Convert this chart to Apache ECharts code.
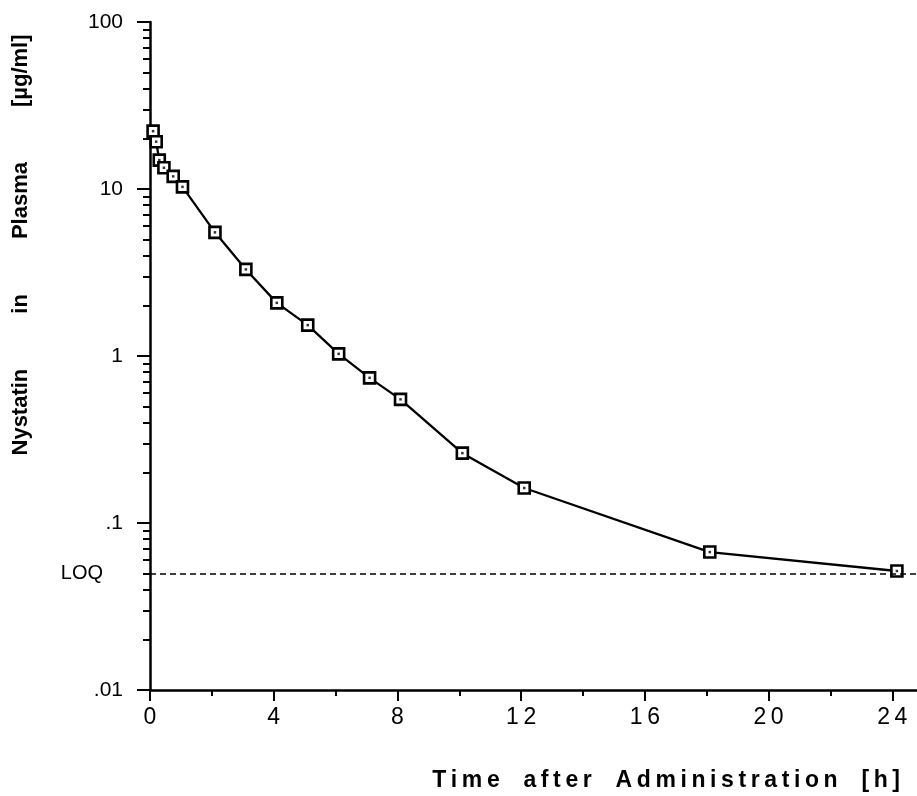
<!DOCTYPE html>
<html>
<head>
<meta charset="utf-8">
<title>Nystatin in Plasma</title>
<script src="https://cdn.jsdelivr.net/npm/echarts@6/dist/echarts.min.js"></script>
<style>
  html, body { margin: 0; padding: 0; background: #fff; }
  #plasmaChart { width: 917px; height: 796px; }
</style>
</head>
<body>
<div id="plasmaChart"></div>
<script>
// sampling times [h] and measured concentrations [µg/ml]
var hours = [0.1, 0.2, 0.3, 0.45, 0.75, 1.05, 2.1, 3.1, 4.1, 5.1, 6.1, 7.1, 8.1, 10.1, 12.1, 18.1, 24.15];
var conc = [22.2, 19.2, 14.9, 13.4, 11.9, 10.3, 5.5, 3.3, 2.08, 1.53, 1.03, 0.74, 0.55, 0.262, 0.162, 0.067, 0.0516];

// limit of quantification
var loq = 0.052;

// axis ticks
var xTicks = [0, 4, 8, 12, 16, 20, 24];
var xMinorTicks = [2, 6, 10, 14, 18, 22];
var yTicks = [0.01, 0.1, 1, 10, 100];
var yTickLabels = ['.01', '.1', '1', '10', '100'];
var yMinorSteps = [2, 3, 4, 5, 6, 7, 8, 9];

var yMinorTicks = [];
for (var d = 0; d < yTicks.length - 1; d++) {
    for (var k = 0; k < yMinorSteps.length; k++) {
        yMinorTicks.push(+(yTicks[d] * yMinorSteps[k]).toPrecision(3));
    }
}

var points = hours.map(function (h, i) { return [h, conc[i]]; });

var FONT = "'Liberation Sans', Arial, Helvetica, sans-serif";

function spaced(word) {
    return word.split('').join('\u2009');
}

var xTitle = ['Time', 'after', 'Administration', '[h]'].map(spaced).join('\u2009   ');
var yTitle = 'Nystatin         in         Plasma         [µg/ml]';

var plasmaChart = {
    animation: false,
    backgroundColor: '#fff',
    grid: {
        left: 150,
        top: 22,
        right: 0,
        bottom: 106
    },
    xAxis: [
        {
            type: 'value',
            min: 0,
            max: 24.8,
            axisLine: { onZero: false, lineStyle: { color: '#000', width: 2.5 } },
            axisTick: { customValues: xTicks, length: 11, lineStyle: { color: '#000', width: 2 } },
            axisLabel: {
                customValues: xTicks,
                margin: 16,
                color: '#000',
                fontFamily: FONT,
                fontSize: 23,
                formatter: function (v) { return String(v).split('').join('\u2009'); }
            },
            splitLine: { show: false }
        },
        {
            type: 'value',
            min: 0,
            max: 24.8,
            position: 'bottom',
            axisLine: { show: false },
            axisTick: { customValues: xMinorTicks, length: 6, lineStyle: { color: '#000', width: 2 } },
            axisLabel: { show: false },
            splitLine: { show: false }
        }
    ],
    yAxis: [
        {
            type: 'log',
            logBase: 10,
            min: 0.01,
            max: 100,
            axisLine: { lineStyle: { color: '#000', width: 2.5 } },
            axisTick: { customValues: yTicks, length: 13, lineStyle: { color: '#000', width: 2 } },
            axisLabel: {
                customValues: yTicks,
                margin: 27,
                color: '#000',
                fontFamily: FONT,
                fontSize: 21,
                formatter: function (v) {
                    var i = yTicks.indexOf(v);
                    return i >= 0 ? yTickLabels[i] : '';
                }
            },
            splitLine: { show: false }
        },
        {
            type: 'log',
            logBase: 10,
            min: 0.01,
            max: 100,
            position: 'left',
            axisLine: { show: false },
            axisTick: { customValues: yMinorTicks, length: 7, lineStyle: { color: '#000', width: 2 } },
            axisLabel: { show: false },
            splitLine: { show: false }
        }
    ],
    graphic: [
        {
            type: 'text',
            x: 900,
            y: 781,
            style: {
                text: xTitle,
                fill: '#000',
                font: 'bold 23px ' + FONT,
                align: 'right',
                verticalAlign: 'middle'
            }
        },
        {
            type: 'text',
            x: 21,
            y: 245,
            rotation: Math.PI / 2,
            style: {
                text: yTitle,
                fill: '#000',
                font: 'bold 22px ' + FONT,
                align: 'center',
                verticalAlign: 'middle'
            }
        }
    ],
    series: [
        {
            name: 'Nystatin',
            type: 'line',
            data: points,
            symbol: 'rect',
            symbolSize: 11,
            lineStyle: { color: '#000', width: 2.3 },
            itemStyle: { color: '#fff', borderColor: '#000', borderWidth: 2.6 },
            markLine: {
                silent: true,
                symbol: 'none',
                data: [{ yAxis: loq }],
                lineStyle: { color: '#000', type: [6, 4], width: 1.6 },
                label: {
                    position: 'start',
                    formatter: 'LOQ',
                    distance: 47,
                    color: '#000',
                    fontFamily: FONT,
                    fontSize: 20
                }
            },
            z: 2
        },
        {
            name: 'centre',
            type: 'scatter',
            data: points,
            symbol: 'rect',
            symbolSize: 2.5,
            itemStyle: { color: '#000' },
            silent: true,
            z: 3
        }
    ]
};

var chart = echarts.init(document.getElementById('plasmaChart'));
chart.setOption(plasmaChart);
</script>
</body>
</html>
